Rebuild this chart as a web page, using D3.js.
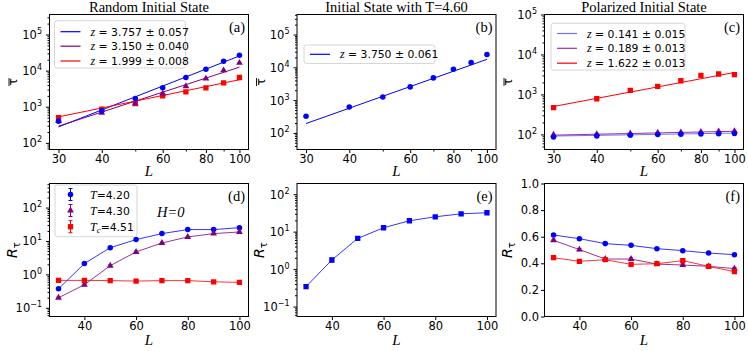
<!DOCTYPE html>
<html><head><meta charset="utf-8">
<script src="https://cdn.jsdelivr.net/npm/d3@7"></script>
<style>body{margin:0;background:#fff}svg{display:block}</style>
</head><body>
<svg id="c" width="748" height="351"></svg>
<script>
// ---------------- data ----------------
const L = [30, 40, 50, 60, 70, 80, 90, 100];
const fitL = [30, 100];
const xTicksTop = [30, 40, 60, 80, 100];
const xTicksBottom = [40, 60, 80, 100];
const titles = ["Random Initial State", "Initial State with T=4.60", "Polarized Initial State"];
const panelTags = ["(a)", "(b)", "(c)", "(d)", "(e)", "(f)"];

// (a) random initial state: mean relaxation time
const tauRandBlue   = [400, 770, 1690, 3340, 6460, 11000, 18300, 26800];
const tauRandPurple = [407, 676, 1230, 2320, 3700, 6000, 10200, 16400];
const tauRandRed    = [500, 856, 1230, 2000, 2580, 3330, 4590, 6460];
const fitRandBlue   = [277, 25500];
const fitRandPurple = [290, 12500];
const fitRandRed    = [525, 5600];
const zRand = ["3.757 ± 0.057", "3.150 ± 0.040", "1.999 ± 0.008"];

// (b) initial state with T=4.60
const tauHot = [323, 621, 1250, 2530, 4760, 8750, 14000, 24500];
const fitHot = [193, 17500];
const zHot = ["3.750 ± 0.061"];

// (c) polarized initial state
const tauPolBlue   = [86, 92, 96, 100, 101, 103, 104, 106];
const tauPolPurple = [98, 102, 106, 110, 113, 116, 119, 121];
const tauPolRed    = [470, 780, 1260, 1600, 2200, 3000, 3250, 3150];
const fitPolBlue   = [91, 108];
const fitPolPurple = [96, 120];
const fitPolRed    = [500, 3550];
const zPol = ["0.141 ± 0.015", "0.189 ± 0.013", "1.622 ± 0.013"];

// (d) R_tau, random initial state
const rRandBlue   = [0.37, 2.1, 6.3, 11.0, 16.6, 21.9, 21.9, 25.0];
const rRandPurple = [0.20, 0.49, 1.82, 4.7, 8.7, 13.2, 16.6, 18.6];
const rRandRed    = [0.66, 0.66, 0.65, 0.63, 0.65, 0.65, 0.60, 0.575];
const eRandBlue   = [0.03, 0.12, 0.3, 0.5, 0.7, 0.9, 0.9, 1.0];
const eRandPurple = [0.01, 0.03, 0.1, 0.25, 0.4, 0.6, 0.8, 0.9];
const eRandRed    = [0.03, 0.03, 0.03, 0.03, 0.03, 0.03, 0.03, 0.03];
const legendD = ["4.20", "4.30", "4.51"];

// (e) R_tau, T=4.60 initial state
const rHot = [0.34, 1.75, 6.6, 12.7, 19.5, 24.9, 29.9, 31.9];
const eHot = [0.02, 0.2, 0.4, 0.7, 1.0, 1.2, 1.4, 1.5];

// (f) R_tau, polarized initial state
const rPolBlue   = [0.613, 0.585, 0.548, 0.535, 0.510, 0.495, 0.477, 0.465];
const rPolPurple = [0.573, 0.503, 0.432, 0.432, 0.394, 0.387, 0.377, 0.360];
const rPolRed    = [0.442, 0.415, 0.427, 0.392, 0.397, 0.420, 0.377, 0.337];
const ePol       = [0.008, 0.008, 0.008, 0.008, 0.008, 0.008, 0.008, 0.008];

// ---------------- drawing ----------------
const BLUE = "#0000ff", PURPLE = "#800080", RED = "#ff0000";
const SANS = "DejaVu Sans", SERIF = "Liberation Serif";
const svg = d3.select("#c");
const W = 199;
const colX = [49.5, 297, 544.5];
const rowY = [[14.5, 149.5], [183.5, 316.5]];
const yDomains = [
  [Math.pow(10, 1.817), Math.pow(10, 5.554)],
  [Math.pow(10, 1.494), Math.pow(10, 5.61)],
  [Math.pow(10, 1.623), 1e5],
  [Math.pow(10, -1.261), Math.pow(10, 2.72)],
  [Math.pow(10, -1.266), Math.pow(10, 2.285)],
  [0, 1]
];
const symType = {circle: d3.symbolCircle, triangle: d3.symbolTriangle, square: d3.symbolSquare};
const symSize = {circle: 24, triangle: 20, square: 28};

function superLabel(sel, exp) {
  sel.append("tspan").text("10");
  sel.append("tspan").attr("dy", -5).attr("font-size", 8).text(exp < 0 ? "\u2212" + (-exp) : exp);
}

function makePanel(i) {
  const col = i % 3, row = Math.floor(i / 3);
  const x0 = colX[col], y0 = rowY[row][0], y1 = rowY[row][1];
  const g = svg.append("g");
  const x = row === 0
    ? d3.scaleLog().domain([30 / Math.pow(10, 0.02614), 100 * Math.pow(10, 0.02614)]).range([x0, x0 + W])
    : d3.scaleLinear().domain([26.5, 103.5]).range([x0, x0 + W]);
  const ylog = i !== 5;
  const y = ylog ? d3.scaleLog().domain(yDomains[i]).range([y1, y0])
                 : d3.scaleLinear().domain(yDomains[i]).range([y1, y0]);
  const cid = "clip" + i;
  svg.append("clipPath").attr("id", cid).append("rect")
    .attr("x", x0).attr("y", y0).attr("width", W).attr("height", y1 - y0);
  const plot = g.append("g").attr("clip-path", `url(#${cid})`);

  // x axis
  const xt = row === 0 ? xTicksTop : xTicksBottom;
  const xa = g.append("g").attr("transform", `translate(0,${y1})`)
    .call(d3.axisBottom(x).tickValues(xt).tickFormat(d3.format("d")).tickSize(3.5).tickPadding(2));
  xa.select(".domain").remove();
  xa.selectAll("text").attr("font-family", SANS).attr("font-size", 11.5).attr("fill", "#000");
  if (row === 0) {
    const xm = g.append("g").attr("transform", `translate(0,${y1})`)
      .call(d3.axisBottom(x).tickValues([50, 70, 90]).tickFormat("").tickSize(2));
    xm.select(".domain").remove();
  }
  // y axis
  if (ylog) {
    const d = y.domain();
    const lo = Math.ceil(Math.log10(d[0]) - 1e-9), hi = Math.floor(Math.log10(d[1]) + 1e-9);
    const majors = d3.range(lo, hi + 1).map(k => Math.pow(10, k));
    const minors = [];
    for (let k = lo - 1; k <= hi; k++) for (let m = 2; m <= 9; m++) {
      const v = m * Math.pow(10, k);
      if (v >= d[0] && v <= d[1]) minors.push(v);
    }
    const ya = g.append("g").attr("transform", `translate(${x0},0)`)
      .call(d3.axisLeft(y).tickValues(majors).tickFormat("").tickSize(3.5));
    ya.select(".domain").remove();
    const ym = g.append("g").attr("transform", `translate(${x0},0)`)
      .call(d3.axisLeft(y).tickValues(minors).tickFormat("").tickSize(2));
    ym.select(".domain").remove();
    majors.forEach(v => {
      const t = g.append("text").attr("x", x0 - 7.5).attr("y", y(v) + 4.5)
        .attr("text-anchor", "end").attr("font-family", SANS).attr("font-size", 11.5);
      superLabel(t, Math.round(Math.log10(v)));
    });
  } else {
    const ya = g.append("g").attr("transform", `translate(${x0},0)`)
      .call(d3.axisLeft(y).tickValues([0, 0.2, 0.4, 0.6, 0.8, 1.0]).tickFormat(d3.format(".1f")).tickSize(3.5).tickPadding(2));
    ya.select(".domain").remove();
    ya.selectAll("text").attr("font-family", SANS).attr("font-size", 11.5).attr("fill", "#000");
  }
  // frame
  g.append("rect").attr("x", x0).attr("y", y0).attr("width", W).attr("height", y1 - y0)
    .attr("fill", "none").attr("stroke", "#000").attr("stroke-width", 1);

  // x label
  g.append("text").attr("x", x0 + W / 2).attr("y", row === 0 ? 175.5 : 345)
    .attr("text-anchor", "middle").attr("font-family", SERIF).attr("font-style", "italic")
    .attr("font-size", 15).text("L");
  // y label
  const yl = g.append("g");
  if (row === 0) {
    yl.attr("transform", `translate(${x0 - 36},${(y0 + y1) / 2}) rotate(-90)`);
    yl.append("text").attr("x", 0).attr("y", 3.5).attr("text-anchor", "middle")
      .attr("font-family", SANS).attr("font-size", 12).text("\u03C4");
    yl.append("line").attr("x1", -4).attr("x2", 4).attr("y1", -4.5).attr("y2", -4.5)
      .attr("stroke", "#000").attr("stroke-width", 0.9);
  } else {
    yl.attr("transform", `translate(${x0 - 33},${(y0 + y1) / 2}) rotate(-90)`);
    const t = yl.append("text").attr("x", 0).attr("y", 0).attr("text-anchor", "middle")
      .attr("font-family", SANS).attr("font-size", 14);
    t.append("tspan").attr("font-style", "italic").text("R");
    t.append("tspan").attr("dy", 3).attr("font-size", 10).text("\u03C4");
  }
  // title
  if (row === 0) {
    g.append("text").attr("x", x0 + W / 2).attr("y", 11.5).attr("text-anchor", "middle")
      .attr("font-family", SERIF).attr("font-size", 14.5).text(titles[col]);
  }
  // tag
  g.append("text").attr("x", x0 + W - 3.5).attr("y", y0 + 17.5).attr("text-anchor", "end")
    .attr("font-family", SERIF).attr("font-size", 14.5).text(panelTags[i]);
  return {g, plot, x, y};
}

function drawPoints(p, vals, color, shape, errs) {
  if (errs) {
    const eg = p.plot.append("g").attr("stroke", color).attr("stroke-width", 1);
    L.forEach((l, k) => {
      const lo = vals[k] - errs[k], hi = vals[k] + errs[k];
      eg.append("line").attr("x1", p.x(l)).attr("x2", p.x(l)).attr("y1", p.y(lo)).attr("y2", p.y(hi));
      eg.append("line").attr("x1", p.x(l) - 2).attr("x2", p.x(l) + 2).attr("y1", p.y(lo)).attr("y2", p.y(lo));
      eg.append("line").attr("x1", p.x(l) - 2).attr("x2", p.x(l) + 2).attr("y1", p.y(hi)).attr("y2", p.y(hi));
    });
  }
  p.plot.append("g").selectAll("path").data(L).join("path")
    .attr("transform", (l, k) => `translate(${p.x(l)},${p.y(vals[k])})`)
    .attr("d", d3.symbol(symType[shape], symSize[shape])).attr("fill", color);
}
function drawFit(p, ends, color, op) {
  const line = d3.line().x(d => p.x(d[0])).y(d => p.y(d[1]));
  p.plot.append("path").datum(fitL.map((l, k) => [l, ends[k]]))
    .attr("d", line).attr("fill", "none").attr("stroke", color).attr("stroke-width", 1).attr("opacity", op || 1);
}
function drawConnect(p, vals, color, op) {
  const line = d3.line().x(d => p.x(d[0])).y(d => p.y(d[1]));
  p.plot.append("path").datum(L.map((l, k) => [l, vals[k]]))
    .attr("d", line).attr("fill", "none").attr("stroke", color).attr("stroke-width", 1).attr("opacity", op || 0.8);
}
function legendBox(g, bx, by, bw, bh) {
  g.append("rect").attr("x", bx).attr("y", by).attr("width", bw).attr("height", bh)
    .attr("rx", 2.5).attr("fill", "#fff").attr("fill-opacity", 0.8).attr("stroke", "#cccccc").attr("stroke-width", 0.8);
}
function zLegend(g, bx, by, bw, bh, rows, labels, colors, ops) {
  legendBox(g, bx, by, bw, bh);
  labels.forEach((lab, k) => {
    const yy = rows[k];
    g.append("line").attr("x1", bx + 6).attr("x2", bx + 26).attr("y1", yy).attr("y2", yy)
      .attr("stroke", colors[k]).attr("stroke-width", 1.2).attr("opacity", ops ? ops[k] : 1);
    const t = g.append("text").attr("x", bx + 36).attr("y", yy + 4).attr("font-family", SANS).attr("font-size", 10.8);
    t.append("tspan").attr("font-family", SERIF).attr("font-style", "italic").attr("font-size", 12).text("z");
    t.append("tspan").text(" = " + lab);
  });
}

// (a)
const pa = makePanel(0);
drawFit(pa, fitRandBlue, BLUE); drawFit(pa, fitRandPurple, PURPLE); drawFit(pa, fitRandRed, RED);
drawPoints(pa, tauRandRed, RED, "square");
drawPoints(pa, tauRandPurple, PURPLE, "triangle");
drawPoints(pa, tauRandBlue, BLUE, "circle");
zLegend(pa.g, 54.5, 20.7, 131, 47.3, [31.7, 46.2, 61], zRand, [BLUE, PURPLE, RED]);

// (b)
const pb = makePanel(1);
drawFit(pb, fitHot, BLUE);
drawPoints(pb, tauHot, BLUE, "circle");
zLegend(pb.g, 304, 45, 131, 18.5, [54.3], zHot, [BLUE]);

// (c)
const pc = makePanel(2);
drawFit(pc, fitPolBlue, BLUE, 0.55); drawFit(pc, fitPolPurple, PURPLE, 0.8); drawFit(pc, fitPolRed, RED);
drawPoints(pc, tauPolRed, RED, "square");
drawPoints(pc, tauPolPurple, PURPLE, "triangle");
drawPoints(pc, tauPolBlue, BLUE, "circle");
zLegend(pc.g, 551, 23.3, 134, 46.7, [33.5, 48.3, 63.2], zPol, [BLUE, PURPLE, RED], [0.55, 0.8, 1]);

// (d)
const pd = makePanel(3);
drawConnect(pd, rRandBlue, BLUE); drawConnect(pd, rRandPurple, PURPLE); drawConnect(pd, rRandRed, RED);
drawPoints(pd, rRandBlue, BLUE, "circle", eRandBlue);
drawPoints(pd, rRandPurple, PURPLE, "triangle", eRandPurple);
drawPoints(pd, rRandRed, RED, "square", eRandRed);
(function () {
  const g = pd.g, bx = 55, by = 185;
  legendBox(g, bx, by, 82, 51.7);
  const rows = [194.5, 210.5, 226.7], cols = [BLUE, PURPLE, RED], shp = ["circle", "triangle", "square"];
  legendD.forEach((lab, k) => {
    const yy = rows[k], mx = bx + 15.5;
    g.append("line").attr("x1", mx).attr("x2", mx).attr("y1", yy - 6).attr("y2", yy + 6).attr("stroke", cols[k]);
    g.append("line").attr("x1", mx - 2).attr("x2", mx + 2).attr("y1", yy - 6).attr("y2", yy - 6).attr("stroke", cols[k]);
    g.append("line").attr("x1", mx - 2).attr("x2", mx + 2).attr("y1", yy + 6).attr("y2", yy + 6).attr("stroke", cols[k]);
    g.append("path").attr("transform", `translate(${mx},${yy})`).attr("d", d3.symbol(symType[shp[k]], symSize[shp[k]])).attr("fill", cols[k]);
    const t = g.append("text").attr("x", bx + 35).attr("y", yy + 4).attr("font-family", SANS).attr("font-size", 10.8);
    t.append("tspan").attr("font-family", SERIF).attr("font-style", "italic").attr("font-size", 12).text("T");
    if (k === 2) t.append("tspan").attr("font-family", SERIF).attr("font-style", "italic").attr("font-size", 9).attr("dy", 2.5).text("c");
    t.append("tspan").attr("dy", k === 2 ? -2.5 : 0).text("=" + lab);
  });
  g.append("text").attr("x", 157).attr("y", 216.5).attr("font-family", SERIF).attr("font-style", "italic")
    .attr("font-size", 14.5).text("H=0");
})();

// (e)
const pe = makePanel(4);
drawConnect(pe, rHot, BLUE);
drawPoints(pe, rHot, BLUE, "square", eHot);

// (f)
const pf = makePanel(5);
drawConnect(pf, rPolBlue, BLUE); drawConnect(pf, rPolPurple, PURPLE); drawConnect(pf, rPolRed, RED);
drawPoints(pf, rPolBlue, BLUE, "circle", ePol);
drawPoints(pf, rPolPurple, PURPLE, "triangle", ePol);
drawPoints(pf, rPolRed, RED, "square", ePol);
</script>
</body></html>
